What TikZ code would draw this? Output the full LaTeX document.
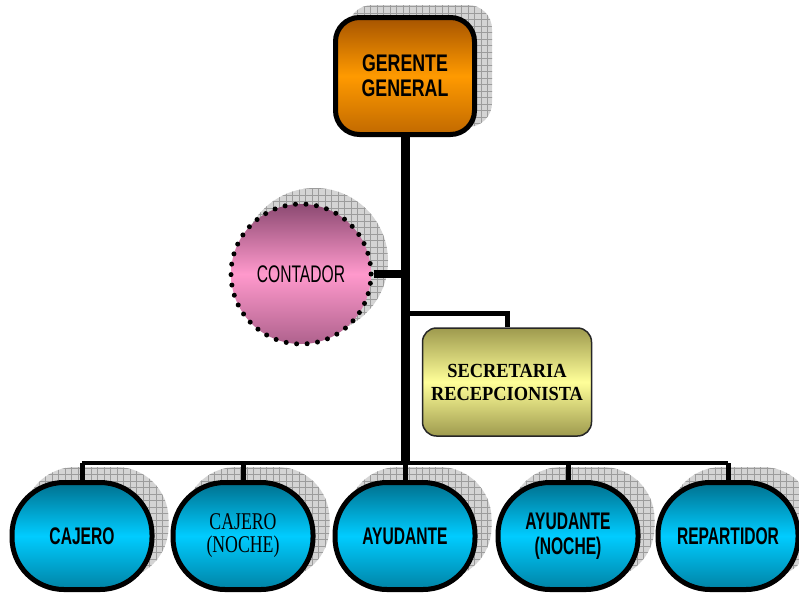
\documentclass[tikz,border=0pt]{standalone}
\usepackage{fontspec}
\setmainfont{Liberation Sans}
\newfontfamily\bossfont[FakeStretch=0.74]{Liberation Sans}
\newfontfamily\narrowsans[FakeStretch=0.65]{Liberation Sans}
\newfontfamily\narrowserif[FakeStretch=0.74]{Liberation Serif}
\newfontfamily\wideserif[FakeStretch=0.92]{Liberation Serif}
\usepackage{tikz}
\usetikzlibrary{calc,backgrounds}
\definecolor{orgdark}{HTML}{A65400}
\definecolor{orgmid}{HTML}{FF9A00}
\definecolor{pinkdark}{HTML}{8C4A72}
\definecolor{pinkmid}{HTML}{FF99CC}
\definecolor{olivedark}{HTML}{9E9A4E}
\definecolor{olivemid}{HTML}{FFFF99}
\definecolor{cyandark}{HTML}{00708E}
\definecolor{cyanmid}{HTML}{00CCFF}
\definecolor{shadegray}{HTML}{D4D4D4}
\definecolor{gridgray}{HTML}{9C9C9C}

% checkered drop shadow behind a shape
\newcommand{\gridfill}[1]{%
  \begin{scope}
    \clip #1;
    \fill[shadegray] (0,0) rectangle (799,597);
    \draw[gridgray,line width=0.5pt,step=6.5pt] (0,597) grid (799,0);
  \end{scope}}

\begin{document}
\begin{tikzpicture}[x=1pt,y=-1pt,
  boss/.style={draw=black,line width=5pt,rounded corners=24pt,minimum width=139pt,minimum height=117pt,align=center,
    top color=orgdark,bottom color=orgdark!70!orgmid,middle color=orgmid,font=\bossfont\bfseries\fontsize{24}{25}\selectfont},
  counsel/.style={circle,draw=black,line width=5pt,dash pattern=on 0pt off 10.5pt,line cap=round,minimum size=140pt,inner sep=0pt,
    top color=pinkdark,bottom color=pinkdark!70!pinkmid,middle color=pinkmid,font=\narrowsans\fontsize{24}{25}\selectfont},
  desk/.style={draw=black!85,line width=1.5pt,rounded corners=14pt,minimum width=169pt,minimum height=108pt,align=center,
    top color=olivedark,bottom color=olivedark,middle color=olivemid,font=\wideserif\bfseries\fontsize{20}{23}\selectfont},
  staff/.style={draw=black,line width=5pt,rounded corners=52pt,minimum width=140pt,minimum height=107pt,align=center,
    top color=cyandark,bottom color=cyandark!80!cyanmid,middle color=cyanmid,font=\narrowsans\bfseries\fontsize{24}{25}\selectfont},
  trunk/.style={line width=9pt},
  branch/.style={line width=4.5pt}
]
\useasboundingbox (0,0) rectangle (799,597);

\node[boss] (gg) at (405,76) {GERENTE\\GENERAL};
\node[counsel] (cont) at (301,274) {CONTADOR};
\node[desk] (sec) at (507,382) {SECRETARIA\\RECEPCIONISTA};

\node[staff] (b1) at (82,536) {CAJERO};
\node[staff,font=\narrowserif\fontsize{24}{23}\selectfont] (b2) at (243,536) {CAJERO\\(NOCHE)};
\node[staff] (b3) at (405,536) {AYUDANTE};
\node[staff] (b4) at (568,536) {AYUDANTE\\(NOCHE)};
\node[staff] (b5) at (728,536) {REPARTIDOR};

\coordinate (bus) at (405,463);

\begin{scope}[on background layer]
  \gridfill{[rounded corners=24pt] ($(gg.south west)+(15,-10)$) rectangle ($(gg.north east)+(15,-10)$)}
  \gridfill{($(cont)+(14,-13)$) circle[radius=73]}
  \foreach \n in {b1,b2,b3,b4,b5}
    \gridfill{[rounded corners=52pt] ($(\n.south west)+(14,-13)$) rectangle ($(\n.north east)+(14,-13)$)};
\end{scope}

\draw[trunk] (gg.south) -- (gg.south |- bus);
\draw[line width=8pt] (cont.east) -- (cont.east -| gg.south);
\draw[branch,line width=5pt] (gg.south |- 0,313) -| (sec.north);
\draw[branch] (b1.north |- bus) -- (b5.north |- bus);
\foreach \n in {b1,b2,b3,b4,b5}
  \draw[branch,line width=5pt] (\n.north |- bus) -- (\n.north);
\end{tikzpicture}
\end{document}
